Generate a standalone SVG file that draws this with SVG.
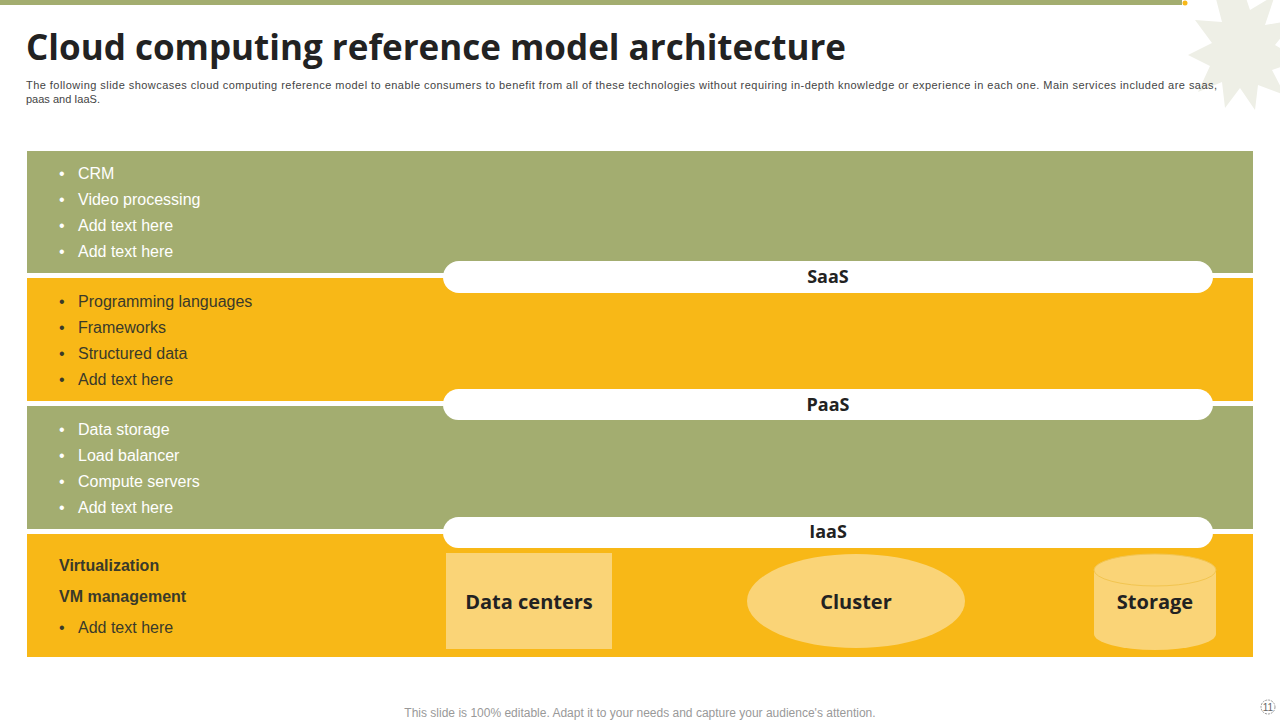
<svg xmlns="http://www.w3.org/2000/svg" width="1280" height="720" viewBox="0 0 1280 720">
<style>
.b{font-family:"Liberation Sans",Arial,sans-serif;font-size:16px;fill:#fff}
.d{font-family:"Liberation Sans",Arial,sans-serif;font-size:16px;fill:#3a3a2a}
.p{font-family:"Open Sans","Noto Sans",sans-serif;font-size:18px;font-weight:bold;fill:#222;text-anchor:middle}
.n{font-family:"Open Sans","Noto Sans",sans-serif;font-size:20px;font-weight:bold;fill:#222;text-anchor:middle}
.pill{fill:#fff}
.lt{fill:#FAD477}
</style>
<rect width="1280" height="720" fill="#fff"/>
<polygon points="1240,-20 1250,10 1275,-5 1265,25 1295,20 1275,45 1300,60 1272,70 1285,95 1258,85 1255,110 1240,88 1225,108 1222,82 1198,92 1210,66 1188,55 1212,43 1195,20 1222,22 1215,-5" fill="#EEEFE6"/>
<rect x="0" y="0" width="1182" height="5" fill="#A3AD70"/>
<circle cx="1185" cy="3" r="2.5" fill="#F8B817"/>
<text x="26" y="60" font-family="'Open Sans','Noto Sans',sans-serif" font-size="35" font-weight="bold" fill="#222">Cloud computing reference model architecture</text>
<text font-family="'Liberation Sans',Arial,sans-serif" font-size="11" fill="#444"><tspan x="26" y="89" textLength="1191" lengthAdjust="spacing">The following slide showcases cloud computing reference model to enable consumers to benefit from all of these technologies without requiring in-depth knowledge or experience in each one. Main  services included are saas,</tspan><tspan x="26" y="103">paas and IaaS.</tspan></text>
<g id="saas-band"><rect x="27" y="151" width="1226" height="122" fill="#A3AD70"/>
<text class="b"><tspan x="59" y="179">•</tspan><tspan x="78" y="179">CRM</tspan><tspan x="59" y="205">•</tspan><tspan x="78" y="205">Video processing</tspan><tspan x="59" y="231">•</tspan><tspan x="78" y="231">Add text here</tspan><tspan x="59" y="257">•</tspan><tspan x="78" y="257">Add text here</tspan></text></g>
<g id="paas-band"><rect x="27" y="278" width="1226" height="123" fill="#F8B817"/>
<text class="d"><tspan x="59" y="307">•</tspan><tspan x="78" y="307">Programming languages</tspan><tspan x="59" y="333">•</tspan><tspan x="78" y="333">Frameworks</tspan><tspan x="59" y="359">•</tspan><tspan x="78" y="359">Structured  data</tspan><tspan x="59" y="385">•</tspan><tspan x="78" y="385">Add text here</tspan></text></g>
<g id="iaas-band"><rect x="27" y="406" width="1226" height="123" fill="#A3AD70"/>
<text class="b"><tspan x="59" y="435">•</tspan><tspan x="78" y="435">Data storage</tspan><tspan x="59" y="461">•</tspan><tspan x="78" y="461">Load balancer</tspan><tspan x="59" y="487">•</tspan><tspan x="78" y="487">Compute servers</tspan><tspan x="59" y="513">•</tspan><tspan x="78" y="513">Add text here</tspan></text></g>
<g id="infra-band"><rect x="27" y="534" width="1226" height="123" fill="#F8B817"/>
<text class="d" font-weight="bold"><tspan x="59" y="571">Virtualization</tspan><tspan x="59" y="602">VM management</tspan></text>
<text class="d"><tspan x="59" y="633">•</tspan><tspan x="78" y="633">Add text here</tspan></text></g>
<g id="saas"><rect class="pill" x="443" y="261" width="770" height="32" rx="16"/><text class="p" x="828" y="283">SaaS</text></g>
<g id="paas"><rect class="pill" x="443" y="389" width="770" height="31" rx="15.5"/><text class="p" x="828" y="411">PaaS</text></g>
<g id="iaas"><rect class="pill" x="443" y="517" width="770" height="31" rx="15.5"/><text class="p" x="828" y="538">IaaS</text></g>
<g id="datacenters"><rect class="lt" x="446" y="553" width="166" height="96"/><text class="n" x="529" y="609">Data centers</text></g>
<g id="cluster"><ellipse class="lt" cx="856" cy="601" rx="109" ry="47"/><text class="n" x="856" y="609">Cluster</text></g>
<g id="storage"><path class="lt" d="M1094,570 V634 A61,16 0 0 0 1216,634 V570 Z"/><ellipse cx="1155" cy="570" rx="61" ry="16" fill="#FAD477" stroke="#F2C550" stroke-width="1"/><text class="n" x="1155" y="609">Storage</text></g>
<g id="connectors"></g>
<text x="640" y="717" font-family="'Liberation Sans',Arial,sans-serif" font-size="12" fill="#999" text-anchor="middle">This slide is 100% editable. Adapt it to your needs and capture your audience's attention.</text>
<circle cx="1268" cy="707" r="7" fill="none" stroke="#999" stroke-width="1" stroke-dasharray="2,1"/>
<text x="1268" y="711" font-family="'Liberation Sans',Arial,sans-serif" font-size="10" fill="#666" text-anchor="middle">11</text>
</svg>
